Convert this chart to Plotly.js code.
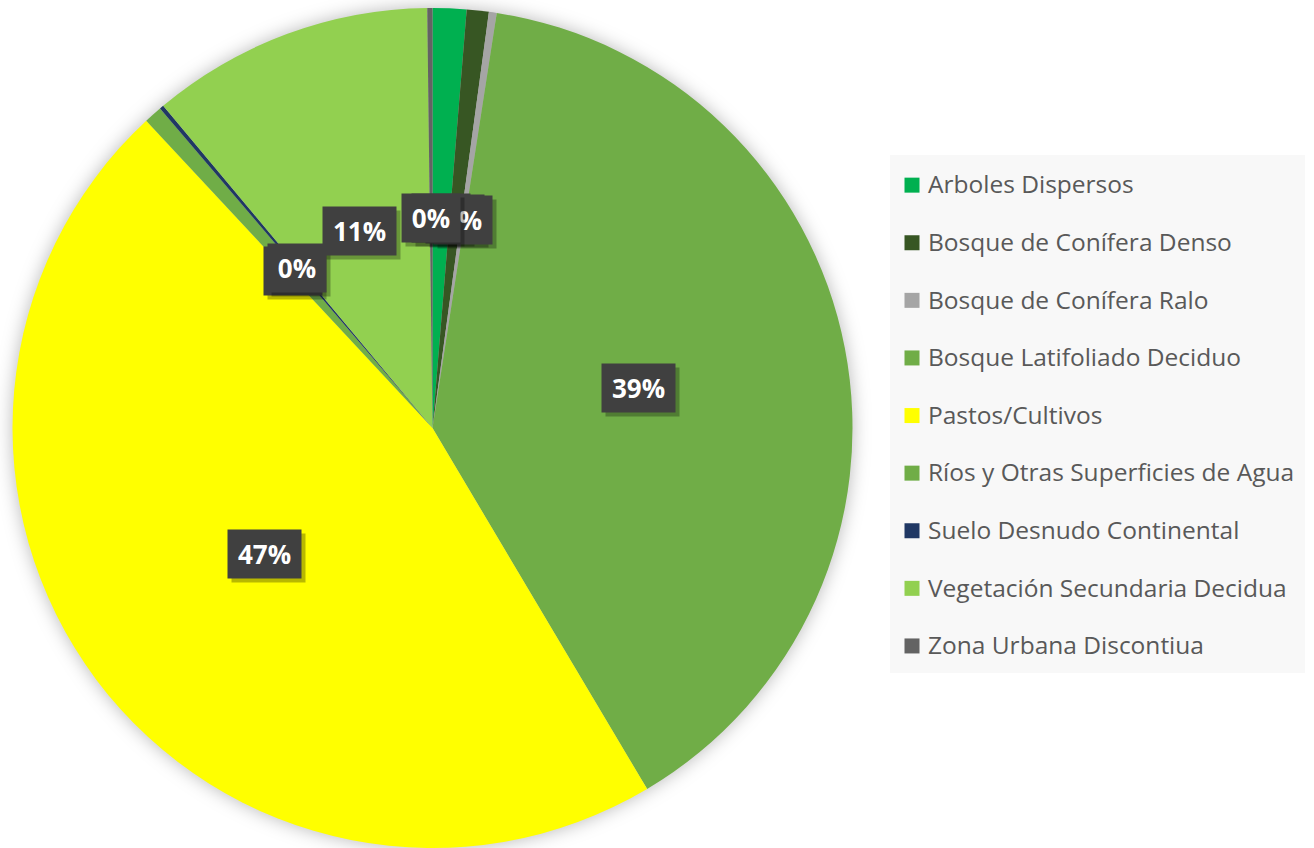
<!DOCTYPE html>
<html>
<head>
<meta charset="utf-8">
<script src="https://cdn.plot.ly/plotly-3.0.1.min.js"></script>
<style>
html,body{margin:0;padding:0;background:#fff;}
#chart{width:1314px;height:848px;}
.pielayer{filter:drop-shadow(0px 0px 9px rgba(0,0,0,0.28));}
.legendpie{d:path('M11.5,7.5V-7.5H-3.5V7.5Z');}
</style>
</head>
<body>
<div id="chart"></div>
<script>
const categories = [
  'Arboles Dispersos',
  'Bosque de Conífera Denso',
  'Bosque de Conífera Ralo',
  'Bosque Latifoliado Deciduo',
  'Pastos/Cultivos',
  'Ríos y Otras Superficies de Agua',
  'Suelo Desnudo Continental',
  'Vegetación Secundaria Decidua',
  'Zona Urbana Discontiua'
];
const values = [1.3, 0.85, 0.3, 39.1, 46.7, 0.7, 0.16, 10.9, 0.2];
const colors = ['#00b050', '#375623', '#a5a5a5', '#70ad47', '#ffff00', '#70ad47', '#203864', '#92d050', '#636363'];

const W = 1314, H = 848;
const cx = 432.5, cy = 428, R = 420;

const trace = {
  type: 'pie',
  labels: categories.map(c => '<span style="font-size:24.5px">' + c + '</span><br>&nbsp;'),
  values: values,
  sort: false,
  direction: 'clockwise',
  rotation: 0,
  marker: {colors: colors, line: {width: 0}},
  textinfo: 'none',
  hoverinfo: 'none',
  domain: {x: [(cx - R) / W, (cx + R) / W], y: [(H - cy - R) / H, (H - cy + R) / H]}
};

const total = values.reduce((a, b) => a + b, 0);
const annotations = [];
let acc = 0;
values.forEach((v, i) => {
  const mid = (acc + v / 2) / total * 2 * Math.PI;
  acc += v;
  const px = cx + 0.5 * R * Math.sin(mid);
  const py = cy - 0.5 * R * Math.cos(mid);
  const txt = Math.round(v / total * 100) + '%';
  const w = 14 + 15 * txt.length;
  const base = {
    xref: 'paper', yref: 'paper', x: px / W, y: (H - py) / H,
    xanchor: 'center', yanchor: 'middle', showarrow: false,
    width: w, height: 34, borderpad: 7
  };
  annotations.push(Object.assign({}, base, {
    text: '&nbsp;', xshift: 4, yshift: -4,
    bgcolor: 'rgba(0,0,0,0.28)',
    font: {family: 'Open Sans', size: 26, color: 'rgba(0,0,0,0)', weight: 700}
  }));
  annotations.push(Object.assign({}, base, {
    text: txt,
    bgcolor: '#404040',
    font: {family: 'Open Sans', size: 26, color: '#ffffff', weight: 700}
  }));
});

const layout = {
  width: W, height: H,
  margin: {l: 0, r: 0, t: 0, b: 0},
  paper_bgcolor: '#ffffff',
  showlegend: true,
  legend: {
    x: 888 / W, y: (H - 165) / H, xanchor: 'left', yanchor: 'top',
    bgcolor: 'rgba(0,0,0,0)', borderwidth: 0,
    valign: 'top',
    font: {family: 'Open Sans', size: 21, color: '#595959'}
  },
  shapes: [{
    type: 'rect', xref: 'paper', yref: 'paper', layer: 'below',
    x0: 890 / W, x1: 1305 / W, y0: (H - 673) / H, y1: (H - 155) / H,
    fillcolor: '#f8f8f8', line: {width: 0}
  }],
  annotations: annotations
};

Plotly.newPlot('chart', [trace], layout, {displayModeBar: false, staticPlot: true});
</script>
</body>
</html>
